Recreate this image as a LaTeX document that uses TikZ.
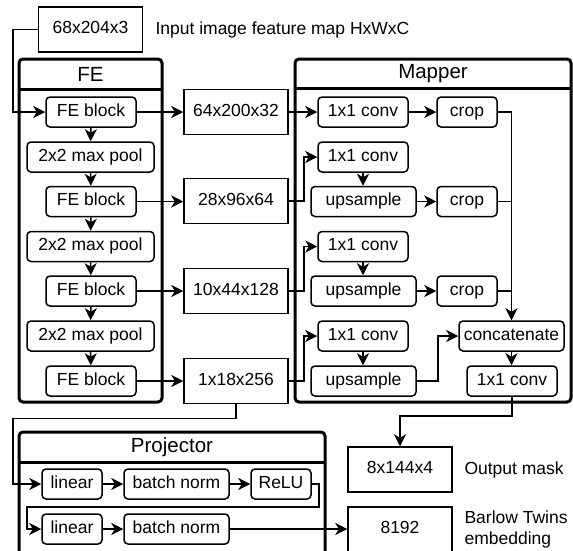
\documentclass[tikz,border=0pt]{standalone}
\usepackage{fontspec}
\setmainfont{Liberation Sans}
\usetikzlibrary{arrows.meta}

\begin{document}
\begin{tikzpicture}[
x=1pt,
y=-1pt,
every node/.style={font=\fontsize{17.5}{21}\selectfont},
block/.style={draw,line width=1.5pt,rounded corners=4pt,minimum height=30pt,inner sep=0pt,text height=12.5pt,text depth=3.7pt},
tensor/.style={draw,line width=1.5pt,minimum width=104pt,minimum height=45pt,inner sep=0pt,text height=12.5pt,text depth=3.7pt},
container/.style={line width=3pt,rounded corners=4pt},
title/.style={font=\fontsize{20.5}{24}\selectfont},
arr/.style={line width=1.5pt,-{Stealth[length=12pt,width=12pt,inset=3.5pt]}},
link/.style={line width=1.5pt}
]
\useasboundingbox (0,0) rectangle (573,550);
\clip (0,0) rectangle (573,550);

% containers
\draw[container] (19,59) rectangle (162,402);
\draw[line width=3pt] (19,89) -- (162,89);
\node[title] (fetitle) at (90.5,74) {FE};

\draw[container] (295,59) rectangle (571,402);
\draw[line width=3pt] (295,88) -- (571,88);
\node[title] (maptitle) at (433,73.5) {Mapper};

\draw[container] (19,432) rectangle (325,580);
\draw[line width=3pt] (19,462) -- (325,462);
\node[title] (projtitle) at (172,447) {Projector};

% input
\node[tensor] (in) at (90.5,29.5) {68x204x3};
\node[anchor=west] (inlabel) at (152,30) {Input image feature map HxWxC};

% feature extractor
\node[block,minimum width=90pt] (fe1) at (91,112) {FE block};
\node[block,minimum width=127pt] (pool1) at (90.5,157) {2x2 max pool};
\node[block,minimum width=90pt] (fe2) at (91,201.5) {FE block};
\node[block,minimum width=127pt] (pool2) at (90.5,246.5) {2x2 max pool};
\node[block,minimum width=90pt] (fe3) at (91,291) {FE block};
\node[block,minimum width=127pt] (pool3) at (90.5,336) {2x2 max pool};
\node[block,minimum width=90pt] (fe4) at (91,381) {FE block};

% feature maps
\node[tensor] (t1) at (236,112) {64x200x32};
\node[tensor] (t2) at (236,201) {28x96x64};
\node[tensor] (t3) at (236,291) {10x44x128};
\node[tensor] (t4) at (236,381) {1x18x256};

% mapper
\node[block,minimum width=90pt] (mconv1) at (363,112) {1x1 conv};
\node[block,minimum width=60pt] (crop1) at (467,112) {crop};
\node[block,minimum width=90pt] (mconv2) at (363,157) {1x1 conv};
\node[block,minimum width=105pt] (up2) at (363.5,201.5) {upsample};
\node[block,minimum width=60pt] (crop2) at (467,201.5) {crop};
\node[block,minimum width=90pt] (mconv3) at (363,246.5) {1x1 conv};
\node[block,minimum width=105pt] (up3) at (363.5,291) {upsample};
\node[block,minimum width=60pt] (crop3) at (467,291) {crop};
\node[block,minimum width=90pt] (mconv4) at (363,336) {1x1 conv};
\node[block,minimum width=105pt] (up4) at (363.5,381) {upsample};
\node[block,minimum width=105pt] (concat) at (511.5,336) {concatenate};
\node[block,minimum width=90pt] (outconv) at (512,381) {1x1 conv};

% outputs
\node[tensor] (mask) at (400,469.5) {8x144x4};
\node[anchor=west] (masklabel) at (461,469.5) {Output mask};
\node[tensor] (emb) at (400,529.5) {8192};
\node[anchor=west,align=left] (emblabel) at (461,529.5) {Barlow Twins\\embedding};

% projector
\node[block,minimum width=60pt] (lin1) at (72,484) {linear};
\node[block,minimum width=105pt] (bn1) at (176.5,484) {batch norm};
\node[block,minimum width=60pt] (relu) at (281,484) {ReLU};
\node[block,minimum width=60pt] (lin2) at (72,529) {linear};
\node[block,minimum width=105pt] (bn2) at (176.5,529) {batch norm};

% connecting lines
\draw[arr] (in.west) -- ++(-25,0) |- (fe1.west);

\draw[arr] (fe1) -- (pool1);
\draw[arr] (pool1) -- (fe2);
\draw[arr] (fe2) -- (pool2);
\draw[arr] (pool2) -- (fe3);
\draw[arr] (fe3) -- (pool3);
\draw[arr] (pool3) -- (fe4);

\draw[arr] (fe1) -- (t1);
\draw[arr] (fe2.east) -- (t2.west |- fe2.east);
\draw[arr] (fe3) -- (t3);
\draw[arr] (fe4) -- (t4);

\draw[arr] (t1) -- (mconv1);
\draw[arr] (mconv1) -- (crop1);
\draw[arr] (crop1.east) -| (concat.north);

\draw[arr] (t2.east) -- ++(15,0) |- (mconv2.west);
\draw[arr] (mconv2) -- (mconv2 |- up2.north);
\draw[arr] (up2) -- (crop2);
\draw[link] (crop2.east) -- (crop2.east -| concat.north);

\draw[arr] (t3.east) -- ++(15,0) |- (mconv3.west);
\draw[arr] (mconv3) -- (mconv3 |- up3.north);
\draw[arr] (up3) -- (crop3);
\draw[link] (crop3.east) -- (crop3.east -| concat.north);

\draw[arr] (t4.east) -- ++(15,0) |- (mconv4.west);
\draw[arr] (mconv4) -- (mconv4 |- up4.north);
\draw[arr] (up4.east) -- ++(21,0) |- (concat.west);

\draw[arr] (concat) -- (concat |- outconv.north);
\draw[arr] (outconv.south) -- ++(0,19) -| (mask.north);

\draw[arr] (t4.south) -- ++(0,14) -- ++(-223,0) |- (lin1.west);
\draw[arr] (lin1) -- (bn1);
\draw[arr] (bn1) -- (relu);
\draw[arr] (relu.east) -- ++(7,0) |- (27,507) |- (lin2.west);
\draw[arr] (lin2) -- (bn2);
\draw[arr] (bn2) -- (emb.west |- bn2.east);

\end{tikzpicture}
\end{document}
